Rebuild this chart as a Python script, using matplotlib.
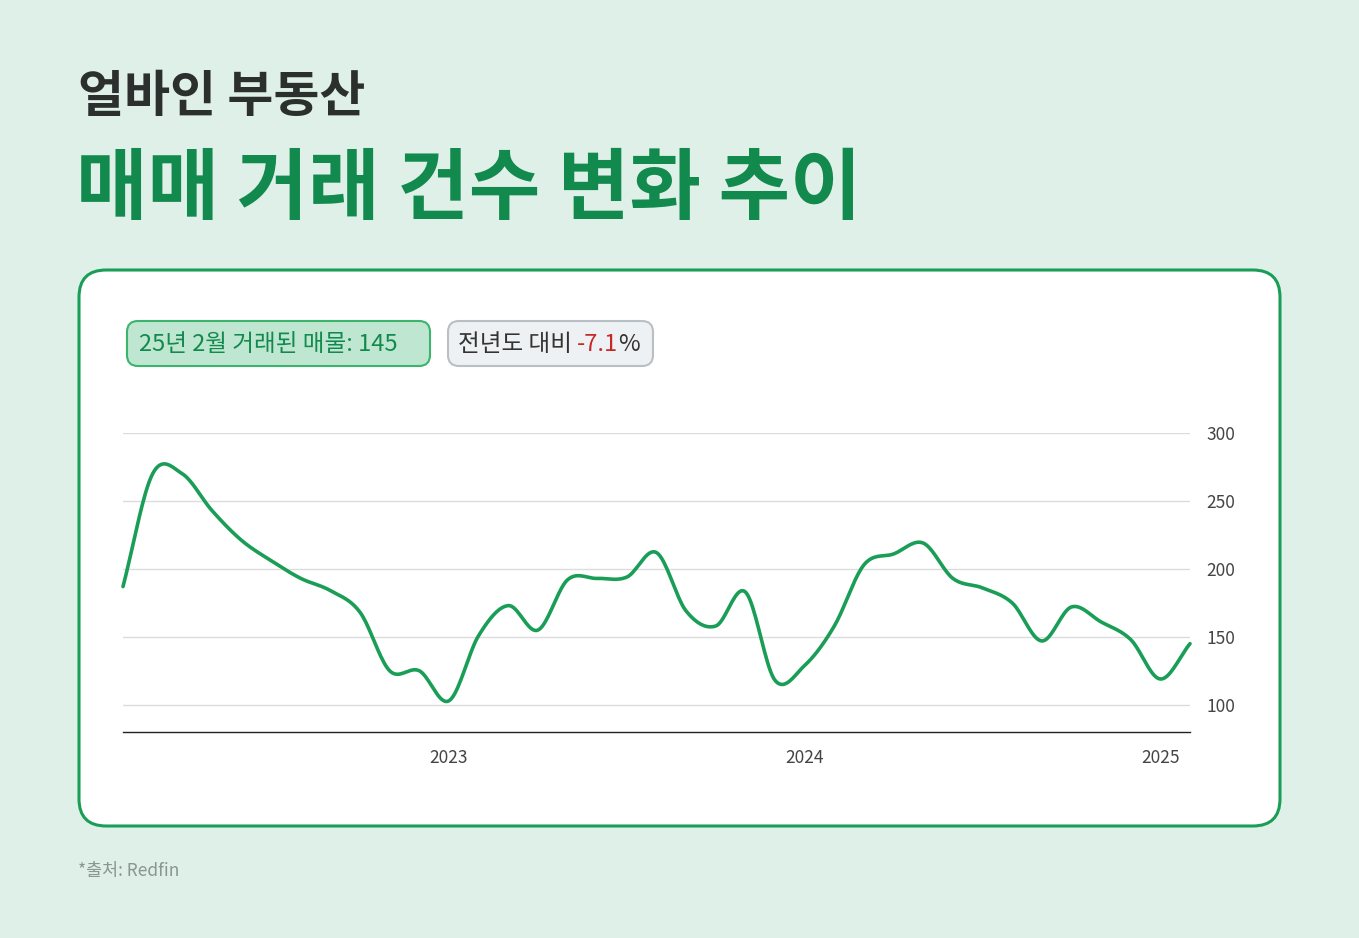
import numpy as np
import matplotlib
matplotlib.use("Agg")
import matplotlib.pyplot as plt
from matplotlib.patches import FancyBboxPatch

# monthly sales, Feb 2022 .. Feb 2025
months = np.arange(37)  # 0 = Feb 2022
sales = [187, 270, 270, 243, 221, 206, 193, 184, 168, 125, 125, 103,
         151, 173, 155, 192, 193, 194, 212, 169, 158, 183, 118, 129,
         158, 203, 211, 219, 193, 186, 175, 147, 172, 161, 148, 119, 145]
year_ticks = [11, 23, 35]
year_labels = ["2023", "2024", "2025"]
y_ticks = [100, 150, 200, 250, 300]

plt.rcParams["font.family"] = ["Noto Sans CJK KR", "Noto Sans CJK JP",
                               "Noto Sans CJK SC", "DejaVu Sans"]
GREEN = "#1a9e57"
DARK_GREEN = "#128a4e"
BG = "#dff0e9"


def catmull(x, y, n=20):
    x = np.asarray(x, float); y = np.asarray(y, float)
    px = np.concatenate([[2 * x[0] - x[1]], x, [2 * x[-1] - x[-2]]])
    py = np.concatenate([[2 * y[0] - y[1]], y, [2 * y[-1] - y[-2]]])
    xs, ys = [], []
    t = np.linspace(0, 1, n, endpoint=False)
    for i in range(1, len(px) - 2):
        for p, out in ((px, xs), (py, ys)):
            p0, p1, p2, p3 = p[i - 1], p[i], p[i + 1], p[i + 2]
            out.extend(0.5 * (2 * p1 + (-p0 + p2) * t
                              + (2 * p0 - 5 * p1 + 4 * p2 - p3) * t ** 2
                              + (-p0 + 3 * p1 - 3 * p2 + p3) * t ** 3))
    xs.append(x[-1]); ys.append(y[-1])
    return np.array(xs), np.array(ys)


W, H = 1359, 938
fig = plt.figure(figsize=(W / 100, H / 100), dpi=100, facecolor=BG)


def box(x0, y0, x1, y1, fc, ec, lw, r):
    p = FancyBboxPatch((x0 / W, 1 - y1 / H), (x1 - x0) / W, (y1 - y0) / H,
                       boxstyle=f"round,pad=0,rounding_size={r}",
                       transform=fig.transFigure, facecolor=fc,
                       edgecolor=ec, lw=lw, mutation_aspect=W / H, zorder=-1)
    fig.patches.append(p)


# white card and badges
box(79, 270, 1280, 826, "white", GREEN, 2.2, 0.02)
box(127, 321, 430, 366, "#bfe6d0", "#3cb46e", 1.5, 0.008)
box(448, 321, 653, 366, "#eef1f3", "#b8c0c6", 1.5, 0.008)

fig.text(78 / W, 1 - 98 / H, "얼바인 부동산", fontsize=36, fontweight="bold",
         color="#2b2f2d", va="center")
fig.text(76 / W, 1 - 190 / H, "매매 거래 건수 변화 추이", fontsize=56,
         fontweight="bold", color=DARK_GREEN, va="center")
fig.text(78 / W, 1 - 871 / H, "*출처: Redfin", fontsize=12.5,
         color="#8a9690", va="center")

fig.text(139 / W, 1 - 344 / H, "25년 2월 거래된 매물: 145", fontsize=17,
         color=DARK_GREEN, va="center")
renderer = fig.canvas.get_renderer()
x = 458
for s, c in (("전년도 대비 ", "#333"), ("-7.1", "#c62828"), ("%", "#333")):
    t = fig.text(x / W, 1 - 344 / H, s, fontsize=17, color=c, va="center")
    x = t.get_window_extent(renderer).x1

ax = fig.add_axes([123 / W, 1 - 732 / H, 1067 / W, 299 / H], zorder=2)
ax.set_facecolor("none")
sx, sy = catmull(months, sales)
ax.plot(sx, sy, color=GREEN, lw=2.6, clip_on=False, solid_capstyle="round")
ax.set_xlim(0, 36)
ax.set_ylim(80, 300)
ax.set_yticks(y_ticks)
ax.yaxis.tick_right()
ax.grid(axis="y", color="#dcdcdc", lw=1)
ax.set_xticks(year_ticks)
ax.set_xticklabels(year_labels)
ax.tick_params(length=0, labelsize=12.5, labelcolor="#444", pad=12)
for s in ("top", "left", "right"):
    ax.spines[s].set_visible(False)
ax.spines["bottom"].set_color("#222")
ax.spines["bottom"].set_linewidth(1)

fig.savefig("out.png", dpi=100, facecolor=BG)
